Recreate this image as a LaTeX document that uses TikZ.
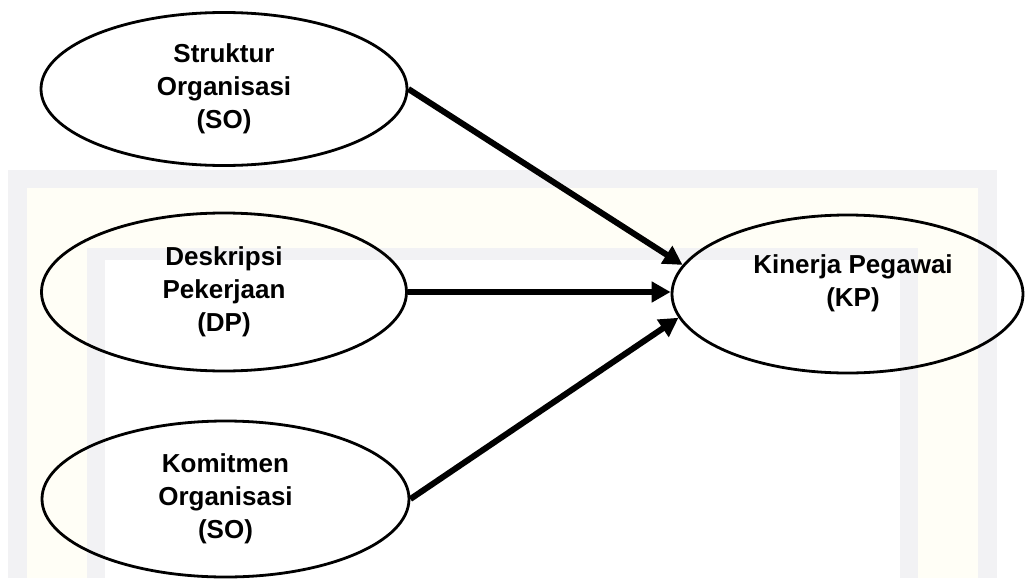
\documentclass[tikz,border=0pt]{standalone}
\usepackage{fontspec}
\setmainfont{Liberation Sans}
\usetikzlibrary{shapes.geometric,arrows.meta}
\definecolor{wmgray}{HTML}{F2F2F4}
\definecolor{wmcream}{HTML}{FFFEF6}
\tikzset{
  var/.style={ellipse, draw, line width=2.8pt, inner sep=0pt, align=center,
    font=\fontsize{26}{33}\selectfont\bfseries},
  lbl/.style={align=center, inner sep=0pt, font=\fontsize{26}{33}\selectfont\bfseries},
  link/.style={line width=6pt, -{Triangle[length=19pt,width=20pt]}}
}
\begin{document}
\begin{tikzpicture}[x=1pt,y=-1pt]
\useasboundingbox (0,0) rectangle (1030,578);
% faint watermark frame
\fill[wmgray] (8,170) rectangle (997,578);
\fill[wmcream] (27,188) rectangle (978,578);
\fill[wmgray] (87,248) rectangle (918,578);
\fill[white] (105,260) rectangle (900,578);
% nodes
\node[var, minimum width=366pt, minimum height=153pt] (so) at (224,89) {Struktur\\Organisasi\\(SO)};
\node[var, minimum width=365pt, minimum height=158pt] (dp) at (224,292) {Deskripsi\\Pekerjaan\\(DP)};
\node[var, minimum width=367pt, minimum height=156pt] (ko) at (225.5,499) {Komitmen\\Organisasi\\(SO)};
\node[var, minimum width=351pt, minimum height=158pt] (kp) at (847.5,294) {};
\node[lbl] (kpl) at (853,283) {Kinerja Pegawai\\(KP)};
% connectors
\draw[link] (so.east) -- (kp.170.7);
\draw[link] (dp.east) -- (dp.east -| kp.west);
\draw[link] (ko.east) -- (kp.188.6);
\end{tikzpicture}
\end{document}
